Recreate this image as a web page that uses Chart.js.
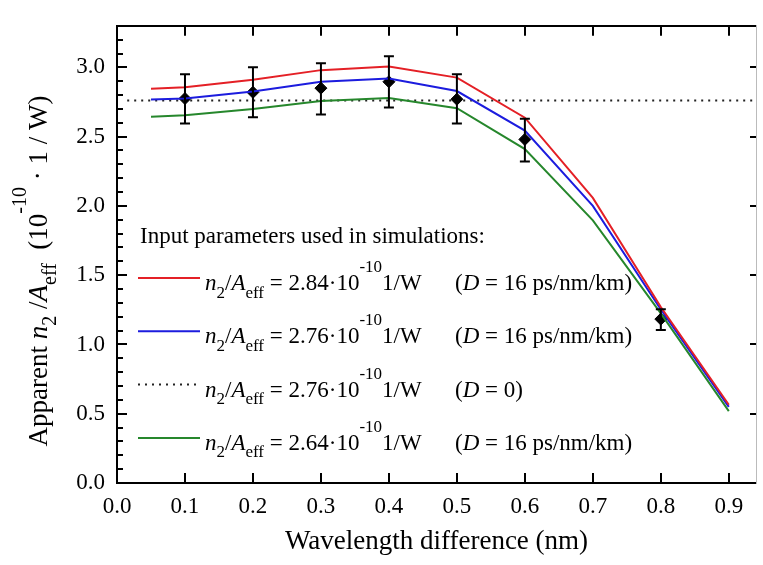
<!DOCTYPE html>
<html lang="en">
<head>
    <title>Apparent n2/Aeff</title>
    <script src="https://cdn.jsdelivr.net/npm/chart.js"></script>
    <style>
        body { margin: 0; background: #fff; }
        #wrap { width: 763px; height: 565px; position: relative; }
    </style>
</head>
<body>
<div id="wrap">
    <canvas id="myChart"></canvas>
</div>
<script>
    // wavelength difference (nm) for the simulated curves
    const wavelength = [0.05, 0.1, 0.2, 0.3, 0.4, 0.5, 0.6, 0.7, 0.8, 0.9];
    const sim284 = [2.845, 2.857, 2.91, 2.98, 3.007, 2.926, 2.637, 2.058, 1.27, 0.565];
    const sim276 = [2.768, 2.775, 2.826, 2.896, 2.919, 2.829, 2.544, 2.0, 1.252, 0.549];
    const sim264 = [2.644, 2.654, 2.70, 2.757, 2.778, 2.705, 2.41, 1.896, 1.224, 0.519];

    // D = 0 reference level
    const flatX = [0.015, 0.94];
    const flatLevel = 2.76;

    // measured points with error bars
    const measX = [0.1, 0.2, 0.3, 0.4, 0.5, 0.6, 0.8];
    const measY = [2.775, 2.82, 2.85, 2.896, 2.77, 2.48, 1.183];
    const errLow = [2.595, 2.64, 2.66, 2.71, 2.595, 2.32, 1.104];
    const errHigh = [2.95, 3.00, 3.03, 3.08, 2.95, 2.63, 1.255];

    const legendValues = ['2.84', '2.76', '2.76', '2.64'];
    const legendD = ['16 ps/nm/km', '16 ps/nm/km', '0', '16 ps/nm/km'];

    const FONT = '"Liberation Serif", "Times New Roman", serif';
    const RED = 'rgb(228,32,38)';
    const BLUE = 'rgb(28,28,222)';
    const GREEN = 'rgb(38,135,44)';

    function pts(xs, ys) {
        return xs.map((x, i) => ({x: x, y: ys[i]}));
    }

    // draws text pieces: [text, 'i' italic | 'sub' | 'sup']
    function drawRich(ctx, x, y, parts, size) {
        const small = Math.round(size * 0.74);
        parts.forEach(p => {
            const txt = p[0], kind = p[1] || '';
            let sz = size, dy = 0, italic = kind === 'i';
            if (kind === 'sub') { sz = small; dy = size * 0.33; }
            if (kind === 'sup') { sz = small; dy = -size * 0.78; }
            ctx.font = (italic ? 'italic ' : '') + sz + 'px ' + FONT;
            ctx.fillText(txt, x, y + dy);
            x += ctx.measureText(txt).width;
        });
        return x;
    }

    const frameTicks = {
        id: 'frameTicks',
        afterDraw(chart) {
            const ctx = chart.ctx, a = chart.chartArea;
            const xs = chart.scales.x, ys = chart.scales.y;
            ctx.save();
            ctx.strokeStyle = '#000';
            ctx.lineWidth = 2;
            ctx.beginPath();
            xs.ticks.forEach(t => {
                const px = Math.round(xs.getPixelForValue(t.value));
                ctx.moveTo(px, a.bottom); ctx.lineTo(px, a.bottom - 10);
                ctx.moveTo(px, a.top); ctx.lineTo(px, a.top + 10);
            });
            for (let k = 0; k <= 33; k++) {
                const v = k / 10;
                const py = Math.round(ys.getPixelForValue(v));
                const major = k % 5 === 0;
                ctx.moveTo(a.left, py); ctx.lineTo(a.left + (major ? 10 : 6), py);
                if (major) { ctx.moveTo(a.right, py); ctx.lineTo(a.right - 6, py); }
            }
            ctx.stroke();

            // y title
            ctx.fillStyle = '#000';
            ctx.textBaseline = 'alphabetic';
            ctx.translate(47, 271);
            ctx.rotate(-Math.PI / 2);
            const parts = [['Apparent '], ['n', 'i'], ['2', 'sub'], [' /'], ['A', 'i'], ['eff', 'sub'],
                ['  (10'], ['-10', 'sup'], [' \u00B7 1 / W)']];
            let w = 0;
            parts.forEach(p => {
                const small = p[1] === 'sub' || p[1] === 'sup';
                ctx.font = (p[1] === 'i' ? 'italic ' : '') + (small ? 20 : 27) + 'px ' + FONT;
                w += ctx.measureText(p[0]).width;
            });
            drawRich(ctx, -w / 2, 0, parts, 27);
            ctx.restore();
        }
    };

    const errorBars = {
        id: 'errorBars',
        afterDatasetsDraw(chart) {
            const ctx = chart.ctx, xs = chart.scales.x, ys = chart.scales.y;
            ctx.save();
            ctx.strokeStyle = '#000';
            ctx.lineWidth = 2;
            ctx.beginPath();
            measX.forEach((x, i) => {
                const px = xs.getPixelForValue(x);
                const lo = ys.getPixelForValue(errLow[i]);
                const hi = ys.getPixelForValue(errHigh[i]);
                ctx.moveTo(px, lo); ctx.lineTo(px, hi);
                ctx.moveTo(px - 5, lo); ctx.lineTo(px + 5, lo);
                ctx.moveTo(px - 5, hi); ctx.lineTo(px + 5, hi);
            });
            ctx.stroke();
            ctx.restore();
        }
    };

    const richLegend = {
        id: 'richLegend',
        afterDraw(chart) {
            const ctx = chart.ctx;
            const sets = [0, 1, 3, 2].map(i => chart.data.datasets[i]);
            ctx.save();
            ctx.fillStyle = '#000';
            ctx.textBaseline = 'alphabetic';
            ctx.font = '23px ' + FONT;
            ctx.fillText('Input parameters used in simulations:', 140, 243);
            sets.forEach((ds, r) => {
                const ly = 278 + r * 53.3;
                ctx.strokeStyle = ds.borderColor;
                ctx.lineWidth = 2;
                ctx.setLineDash(ds.borderDash || []);
                ctx.beginPath();
                ctx.moveTo(138, ly); ctx.lineTo(200, ly);
                ctx.stroke();
                ctx.setLineDash([]);
                const by = ly + 12;
                drawRich(ctx, 205, by, [['n', 'i'], ['2', 'sub'], ['/'], ['A', 'i'], ['eff', 'sub'],
                    [' = ' + legendValues[r] + '\u00B710'], ['-10', 'sup'], ['1/W']], 23);
                drawRich(ctx, 455, by, [['('], ['D', 'i'], [' = ' + legendD[r] + ')']], 23);
            });
            ctx.restore();
        }
    };

    const ctx = document.getElementById('myChart').getContext('2d');
    const chart = new Chart(ctx, {
        type: 'line',
        data: {
            datasets: [
                {
                    label: 'n2/Aeff = 2.84e-10 1/W (D = 16 ps/nm/km)',
                    data: pts(wavelength, sim284),
                    borderColor: RED, borderWidth: 2, pointRadius: 0, tension: 0,
                },
                {
                    label: 'n2/Aeff = 2.76e-10 1/W (D = 16 ps/nm/km)',
                    data: pts(wavelength, sim276),
                    borderColor: BLUE, borderWidth: 2, pointRadius: 0, tension: 0,
                },
                {
                    label: 'n2/Aeff = 2.64e-10 1/W (D = 16 ps/nm/km)',
                    data: pts(wavelength, sim264),
                    borderColor: GREEN, borderWidth: 2, pointRadius: 0, tension: 0,
                },
                {
                    label: 'n2/Aeff = 2.76e-10 1/W (D = 0)',
                    data: pts(flatX, flatX.map(() => flatLevel)),
                    borderColor: '#222', borderWidth: 2, borderDash: [2, 5], pointRadius: 0,
                },
                {
                    label: 'Measured',
                    data: pts(measX, measY),
                    showLine: false,
                    pointStyle: 'rectRot', pointRadius: 6,
                    backgroundColor: '#000', borderColor: '#000', borderWidth: 1,
                },
            ],
        },
        options: {
            responsive: true,
            maintainAspectRatio: false,
            animation: false,
            layout: {padding: 0},
            plugins: {
                legend: {display: false},
                tooltip: {enabled: false},
            },
            scales: {
                x: {
                    type: 'linear', position: 'bottom', min: 0, max: 0.94,
                    grid: {display: false, drawTicks: false},
                    border: {color: '#000', width: 2},
                    ticks: {
                        stepSize: 0.1, includeBounds: false, padding: 10, color: '#000',
                        font: {family: FONT, size: 23},
                        callback: v => v.toFixed(1),
                    },
                    title: {
                        display: true, text: 'Wavelength difference (nm)', color: '#000',
                        font: {family: FONT, size: 27}, padding: {top: 0, bottom: 7},
                    },
                    afterFit: s => { s.height = 82; },
                },
                x2: {
                    type: 'linear', position: 'top', min: 0, max: 0.94,
                    grid: {display: false, drawTicks: false},
                    border: {color: '#000', width: 2},
                    ticks: {display: false},
                    afterFit: s => { s.height = 8; },
                },
                y: {
                    min: 0, max: 3.3,
                    grid: {display: false, drawTicks: false},
                    border: {color: '#000', width: 2},
                    ticks: {
                        stepSize: 0.5, includeBounds: false, padding: 12, color: '#000',
                        font: {family: FONT, size: 23},
                        callback: v => v.toFixed(1),
                    },
                    afterFit: s => { s.width = 117; },
                },
                y2: {
                    position: 'right', min: 0, max: 3.3,
                    grid: {display: false, drawTicks: false},
                    border: {color: '#bbb', width: 1},
                    ticks: {display: false},
                    afterFit: s => { s.width = 1; },
                },
            },
        },
        plugins: [errorBars, frameTicks, richLegend],
    });
</script>
</body>
</html>
